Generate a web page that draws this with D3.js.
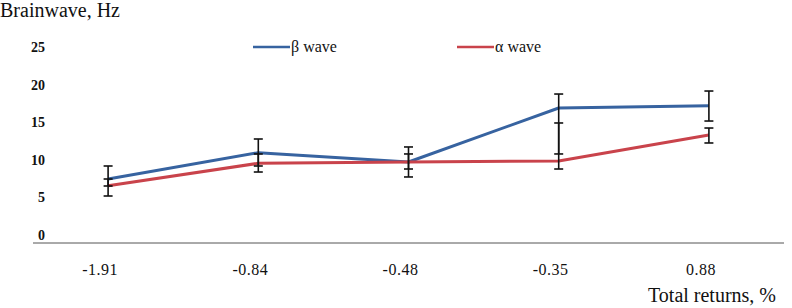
<!DOCTYPE html>
<html>
<head>
<meta charset="utf-8">
<script src="https://cdn.jsdelivr.net/npm/d3@7"></script>
<style>
  body { margin: 0; background: #fff; }
</style>
</head>
<body>
<svg id="chart"></svg>
<script>
// data
const categories = ['-1.91', '-0.84', '-0.48', '-0.35', '0.88'];
const betaWave = [8.51, 12.01, 10.77, 17.95, 18.26];
const betaLow  = [7.58, 10.24, 8.78, 11.84, 16.22];
const betaHigh = [10.24, 13.83, 12.77, 19.81, 20.21];
const alphaWave = [7.62, 10.60, 10.77, 10.90, 14.36];
const alphaLow  = [6.25, 9.44, 9.84, 9.84, 13.30];
const alphaHigh = [8.51, 11.84, 11.84, 15.96, 15.29];
const yTicks = [0, 5, 10, 15, 20, 25];

const series = [
	{name: 'β wave', color: '#3763a0', values: betaWave, low: betaLow, high: betaHigh, legendX: 253},
	{name: 'α wave', color: '#c9434b', values: alphaWave, low: alphaLow, high: alphaHigh, legendX: 457}
];

const FONT = "'Liberation Serif', 'Times New Roman', Times, 'DejaVu Serif', serif";
const W = 792, H = 308;
const svg = d3.select('#chart').attr('width', W).attr('height', H)
	.attr('font-family', FONT)
	.attr('fill', '#111');

// scales
const scaleX = d3.scaleBand()
	.domain(categories)
	.range([33, 784]);
const cx = d => scaleX(d) + scaleX.bandwidth() / 2;

const scaleY = d3.scaleLinear()
	.domain([0, 25])
	.range([243, 55]);

// y axis tick labels (no axis line, labels sit a bit above their values)
svg.append('g')
	.selectAll('text')
	.data(yTicks)
	.enter()
	.append('text')
	.attr('x', 45)
	.attr('y', d => scaleY(d) - 3)
	.attr('text-anchor', 'end')
	.attr('font-family', FONT)
	.style('font-size', '14px')
	.style('font-weight', 'bold')
	.text(d => d);

// x axis line
svg.append('line')
	.attr('x1', 33).attr('x2', 784)
	.attr('y1', scaleY(0)).attr('y2', scaleY(0))
	.attr('stroke', '#555')
	.attr('stroke-width', 1);

// x tick labels
svg.append('g')
	.selectAll('text')
	.data(categories)
	.enter()
	.append('text')
	.attr('x', d => cx(d) - 8)
	.attr('y', 275)
	.attr('text-anchor', 'middle')
	.attr('font-family', FONT)
	.style('font-size', '16px')
	.style('letter-spacing', '0.5px')
	.text(d => d);

// lines
const line = d3.line()
	.x((d, i) => cx(categories[i]))
	.y(d => scaleY(d));

series.forEach(function(s) {
	svg.append('path')
		.datum(s.values)
		.attr('d', line)
		.attr('fill', 'none')
		.attr('stroke', s.color)
		.attr('stroke-width', 3)
		.attr('stroke-linejoin', 'round');
});

// error bars, black, drawn on top
series.forEach(function(s) {
	const g = svg.append('g').attr('stroke', '#111').attr('stroke-width', 1.6);
	categories.forEach(function(c, i) {
		const x = cx(c);
		const y1 = scaleY(s.high[i]), y2 = scaleY(s.low[i]);
		g.append('line').attr('x1', x).attr('x2', x).attr('y1', y1).attr('y2', y2);
		g.append('line').attr('x1', x - 4.5).attr('x2', x + 4.5).attr('y1', y1).attr('y2', y1);
		g.append('line').attr('x1', x - 4.5).attr('x2', x + 4.5).attr('y1', y2).attr('y2', y2);
	});
});

// legend
series.forEach(function(s) {
	svg.append('line')
		.attr('x1', s.legendX).attr('x2', s.legendX + 37)
		.attr('y1', 47).attr('y2', 47)
		.attr('stroke', s.color)
		.attr('stroke-width', 2.5);
	svg.append('text')
		.attr('x', s.legendX + 38)
		.attr('y', 52)
		.attr('font-family', FONT)
		.style('font-size', '16px')
		.text(s.name);
});

// axis titles
svg.append('text')
	.attr('x', 0)
	.attr('y', 17)
	.attr('font-family', FONT)
	.style('font-size', '20px')
	.text('Brainwave, Hz');

svg.append('text')
	.attr('x', 648)
	.attr('y', 302)
	.attr('font-family', FONT)
	.style('font-size', '20px')
	.text('Total returns, %');
</script>
</body>
</html>
